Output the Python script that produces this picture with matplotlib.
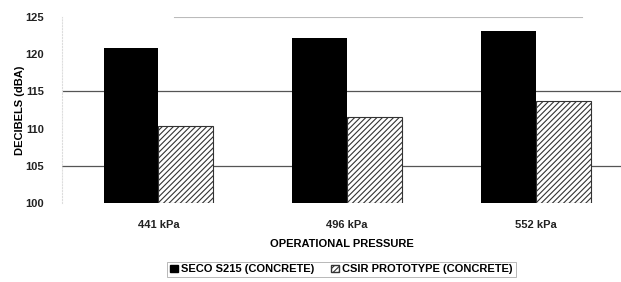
import numpy as np
import matplotlib.pyplot as plt
from matplotlib.patches import Patch

plt.rcParams['font.family'] = ['Liberation Sans', 'DejaVu Sans']
plt.rcParams['font.weight'] = 'bold'
plt.rcParams['hatch.linewidth'] = 0.8

# data
pressures = ['441 kPa', '496 kPa', '552 kPa']
seco = [120.8, 122.2, 123.1]
csir = [110.3, 111.6, 113.7]

fig = plt.figure(figsize=(6.21, 2.82), dpi=100)
ax = fig.add_axes([0.1, 0.28, 0.9, 0.66])

x = np.arange(len(pressures))
w = 0.29
ax.bar(x - w / 2, np.array(seco) - 100, w, bottom=100, color='black', zorder=3)
ax.bar(x + w / 2, np.array(csir) - 100, w, bottom=100, color='white',
       edgecolor='#333333', hatch='//////', linewidth=0.8, zorder=3)

for yv in [105, 115]:
    ax.axhline(yv, color='#555555', lw=0.9, zorder=1)
ax.axhline(125, xmin=0.2, xmax=0.93, color='#bbbbbb', lw=0.8, zorder=1)

ax.set_ylim(100, 125)
ax.set_xlim(-0.51, 2.45)
ax.set_yticks([100, 105, 110, 115, 120, 125])
ax.set_xticks(x)
ax.set_xticklabels(pressures)
ax.tick_params(axis='both', length=0, labelsize=8, colors='#222222')
ax.tick_params(axis='x', pad=12)
ax.tick_params(axis='y', pad=13)
for s in ['top', 'right', 'bottom']:
    ax.spines[s].set_visible(False)
ax.spines['left'].set_color('#dddddd')
ax.spines['left'].set_linestyle(':')

ax.set_ylabel('DECIBELS (dBA)', fontsize=8, fontweight='bold')
ax.yaxis.set_label_coords(-0.066, 0.5)
ax.set_xlabel('OPERATIONAL PRESSURE', fontsize=8, fontweight='bold', labelpad=7)

handles = [Patch(facecolor='black', edgecolor='black'),
           Patch(facecolor='white', edgecolor='#333333', hatch='//////')]
leg = fig.legend(handles, ['SECO S215 (CONCRETE)', 'CSIR PROTOTYPE (CONCRETE)'],
                 loc='center', bbox_to_anchor=(0.55, 0.045), ncol=2, fontsize=8,
                 frameon=True, fancybox=False, handlelength=0.7, handleheight=0.7,
                 handletextpad=0.3, columnspacing=1.5, borderpad=0.25)
leg.get_frame().set_edgecolor('#999999')
leg.get_frame().set_linewidth(0.6)

fig.savefig('out.png', dpi=100)
